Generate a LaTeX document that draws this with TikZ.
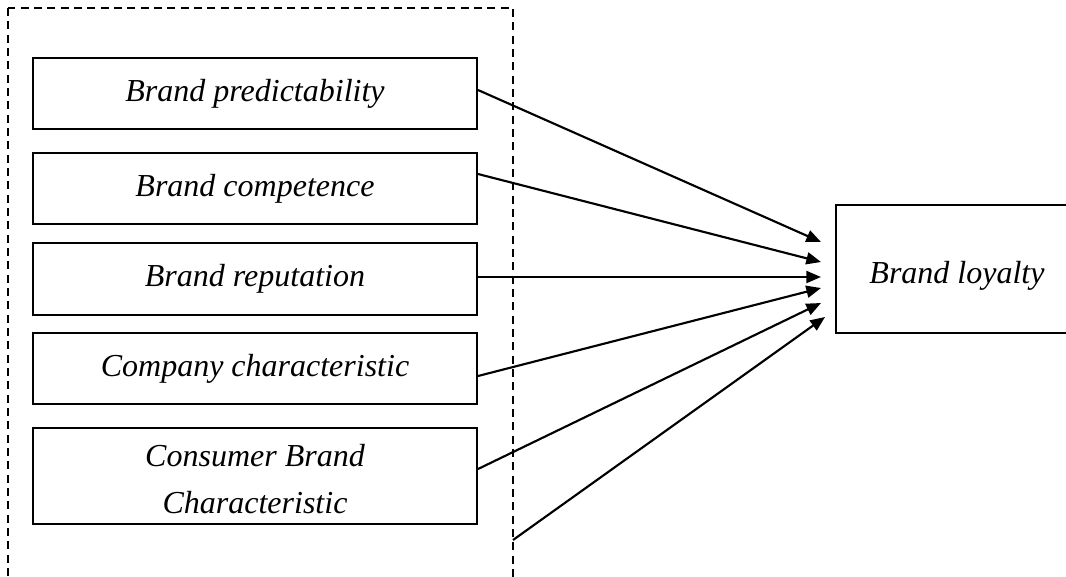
\documentclass[tikz,border=0pt]{standalone}
\usepackage{fontspec}
\setmainfont{Liberation Serif}
\usetikzlibrary{arrows.meta, calc}

\tikzset{
  factorbox/.style={draw, line width=1.5pt, minimum width=333pt, minimum height=53.25pt, inner sep=0pt, text height=21.5pt, text depth=10.25pt, align=center},
  linkarrow/.style={line width=1.6pt, -{Triangle[length=11pt, width=9pt]}}
}

\begin{document}
\begin{tikzpicture}[x=0.75pt, y=-0.75pt, font=\fontsize{24}{35}\selectfont\itshape]
    \useasboundingbox (0,0) rectangle (1066,576);
    % dashed frame round the factors
    \draw[dash pattern=on 6pt off 4pt, line width=1.5pt] (8,8) rectangle (513,620);
    \coordinate (frameedge) at (513,540);

    \node[factorbox] (predict) at (255,93.5) {Brand predictability};
    \node[factorbox] (compet) at (255,188.5) {Brand competence};
    \node[factorbox, minimum height=54pt] (reput) at (255,279) {Brand reputation};
    \node[factorbox] (company) at (255,368.5) {Company characteristic};
    \node[factorbox, minimum height=72pt, text height=57.5pt, text depth=2pt] (consumer) at (255,476) {Consumer Brand\\Characteristic};

    \node[draw, line width=1.5pt, minimum width=181.5pt, minimum height=96pt, inner sep=0pt, text height=23pt, text depth=2pt] (loyalty) at (957,269) {Brand loyalty};

    % links to brand loyalty
    \draw[linkarrow] ($(predict.east)+(0,-3.5)$) -- ($(loyalty.west)+(-14,-27)$);
    \draw[linkarrow] ($(compet.east)+(0,-14.5)$) -- ($(loyalty.west)+(-14,-7)$);
    \draw[linkarrow] ($(reput.east)+(0,-2)$) -- ($(loyalty.west)+(-14,8)$);
    \draw[linkarrow] ($(company.east)+(0,7.5)$) -- ($(loyalty.west)+(-14,19)$);
    \draw[linkarrow] ($(consumer.east)+(0,-7)$) -- ($(loyalty.west)+(-14,34)$);
    \draw[linkarrow] (frameedge) -- ($(loyalty.west)+(-10,48)$);
\end{tikzpicture}
\end{document}
